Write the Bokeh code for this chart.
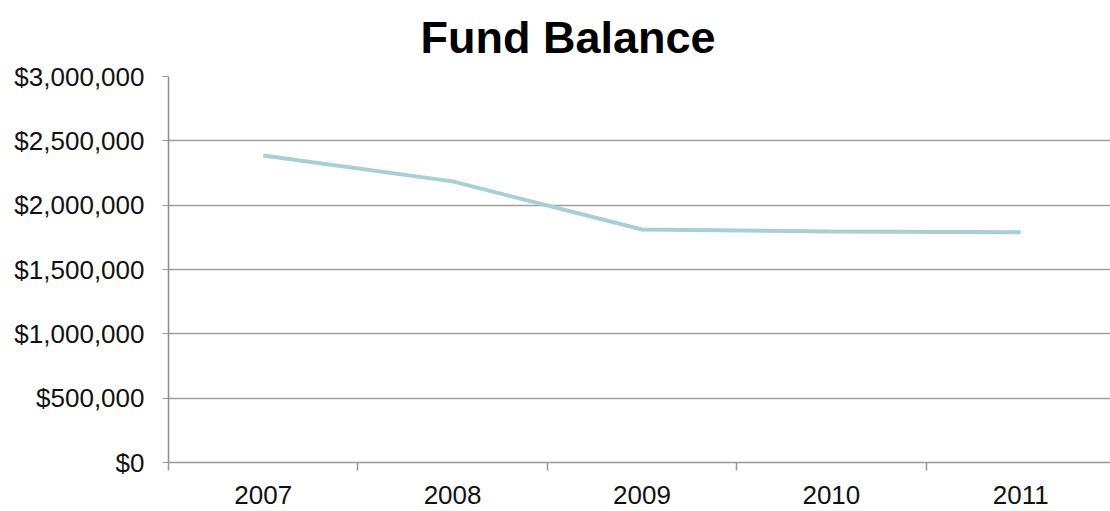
from bokeh.plotting import figure
from bokeh.models import Range1d, FixedTicker, NumeralTickFormatter
from bokeh.embed import file_html
from bokeh.resources import INLINE

title_text = "Fund Balance"
years = ["2007", "2008", "2009", "2010", "2011"]
balance = [2386000, 2185000, 1811000, 1795000, 1790000]
y_ticks = [0, 500000, 1000000, 1500000, 2000000, 2500000, 3000000]

xs = list(range(len(years)))

p = figure(width=1110, height=511, output_backend="svg", toolbar_location=None,
           x_range=Range1d(-0.5, 4.474), y_range=Range1d(0, 3000000),
           min_border_left=168, min_border_right=0, min_border_top=0, min_border_bottom=49)
p.title.text = title_text
p.title.text_font = "Liberation Sans"
p.title.text_font_size = "45px"
p.title.text_font_style = "bold"
p.title.text_color = "#000000"
p.title.align = "left"
p.title.vertical_align = "top"
p.title.offset = 252
p.title.standoff = 23

p.line(xs, balance, line_color="#a6d0d3", line_width=4)

p.outline_line_color = None
p.background_fill_color = "white"
p.border_fill_color = "white"

# y axis
p.yaxis.ticker = FixedTicker(ticks=y_ticks)
p.yaxis.formatter = NumeralTickFormatter(format="$0,0")
p.yaxis.major_label_text_font = "Liberation Sans"
p.yaxis.major_label_text_font_size = "26px"
p.yaxis.major_label_text_color = "#111111"
p.yaxis.major_label_standoff = 18
p.yaxis.major_tick_out = 6
p.yaxis.major_tick_in = 0
p.yaxis.major_tick_line_color = "#999999"
p.yaxis.minor_tick_line_color = None
p.yaxis.axis_line_color = "#8c8c8c"
p.yaxis.axis_line_width = 1.5

# x axis
p.xaxis.ticker = FixedTicker(ticks=xs, minor_ticks=[-0.5, 0.5, 1.5, 2.5, 3.5, 4.5])
p.xaxis.major_label_overrides = {i: y for i, y in enumerate(years)}
p.xaxis.major_label_text_font = "Liberation Sans"
p.xaxis.major_label_text_font_size = "26px"
p.xaxis.major_label_text_color = "#111111"
p.xaxis.major_label_standoff = 15
p.xaxis.major_tick_line_color = None
p.xaxis.major_tick_out = 8
p.xaxis.minor_tick_out = 8
p.xaxis.minor_tick_in = 0
p.xaxis.minor_tick_line_color = "#999999"
p.xaxis.minor_tick_line_width = 1.5
p.xaxis.axis_line_color = "#999999"
p.xaxis.axis_line_width = 1.5

p.xgrid.grid_line_color = None
p.ygrid.grid_line_color = "#a0a0a0"
p.ygrid.grid_line_width = 1.5

open("out.html", "w").write(file_html(p, INLINE))
